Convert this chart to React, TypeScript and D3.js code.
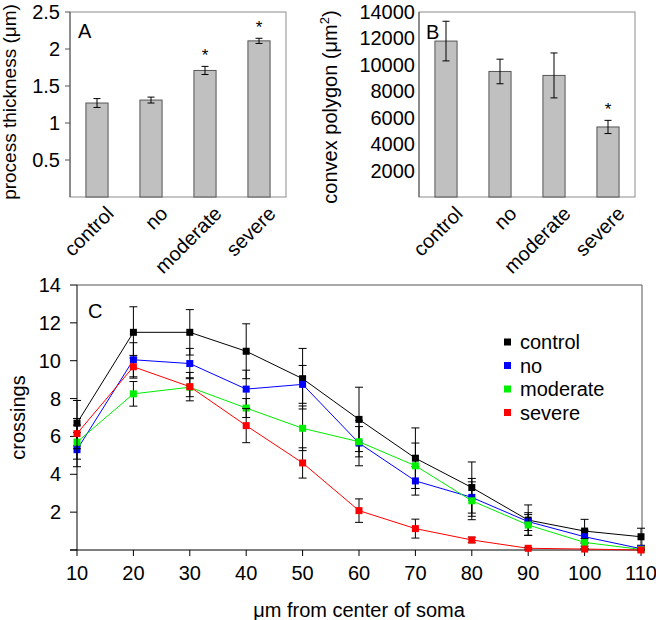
import React from 'react';
import * as d3 from 'd3';

// ---------- Data ----------
const barCategories = ['control', 'no', 'moderate', 'severe'];

const thicknessValues = [1.27, 1.31, 1.71, 2.11];
const thicknessErrors = [0.06, 0.04, 0.055, 0.035];
const thicknessSignificant = [false, false, true, true];
const thicknessTicks = [0.5, 1, 1.5, 2, 2.5];

const polygonValues = [11800, 9500, 9200, 5300];
const polygonErrors = [1500, 930, 1700, 500];
const polygonSignificant = [false, false, false, true];
const polygonTicks = [2000, 4000, 6000, 8000, 10000, 12000, 14000];

const distances = [10, 20, 30, 40, 50, 60, 70, 80, 90, 100, 110];
const crossingTicks = [2, 4, 6, 8, 10, 12, 14];

const seriesNames = ['control', 'no', 'moderate', 'severe'];
const seriesColors = ['#000000', '#0000ff', '#00ee00', '#ff0000'];
const controlMean = [6.7, 11.5, 11.5, 10.5, 9.05, 6.9, 4.85, 3.3, 1.58, 1.0, 0.7];
const controlErr = [1.2, 1.35, 1.2, 1.45, 1.6, 1.7, 1.6, 1.35, 0.8, 0.62, 0.45];
const noMean = [5.3, 10.05, 9.85, 8.5, 8.75, 5.65, 3.65, 2.78, 1.5, 0.7, 0.07];
const noErr = [0.9, 0.9, 0.8, 1.0, 1.0, 1.2, 0.75, 1.0, 0.47, 0.35, 0.1];
const moderateMean = [5.7, 8.25, 8.6, 7.5, 6.43, 5.72, 4.45, 2.6, 1.32, 0.4, 0.03];
const moderateErr = [0.9, 0.65, 0.5, 0.5, 1.18, 0.8, 1.2, 1.0, 0.55, 0.2, 0.05];
const severeMean = [6.15, 9.68, 8.63, 6.57, 4.6, 2.08, 1.13, 0.53, 0.09, 0.05, 0.0];
const severeErr = [0.8, 0.6, 0.75, 0.9, 0.8, 0.62, 0.5, 0.15, 0.05, 0.03, 0.02];

const seriesMeans = [controlMean, noMean, moderateMean, severeMean];
const seriesErrs = [controlErr, noErr, moderateErr, severeErr];

const FONT = 'Liberation Sans, Arial, Helvetica, sans-serif';

type BarPanelProps = {
  x0: number; x1: number; y0: number; y1: number;
  max: number; values: number[]; errors: number[]; sig: boolean[];
  ticks: number[]; tickLabelX: number; tickMarks: boolean;
  letter: string; letterX: number; letterY: number;
};

function BarPanel(p: BarPanelProps) {
  const x = d3.scaleBand<string>().domain(barCategories).range([p.x0, p.x1]).paddingInner(0.59).paddingOuter(0.295);
  const y = d3.scaleLinear().domain([0, p.max]).range([p.y1, p.y0]);
  const bw = x.bandwidth();
  return (
    <g>
      <rect x={p.x0} y={p.y0} width={p.x1 - p.x0} height={p.y1 - p.y0} fill="#fff" stroke="#8c8c8c" strokeWidth={1} />
      <line x1={p.x0} x2={p.x0} y1={p.y0} y2={p.y1} stroke="#555" strokeWidth={1} />
      {p.ticks.map((t) => (
        <g key={t}>
          {p.tickMarks && <line x1={p.x0 - 5} x2={p.x0} y1={y(t)} y2={y(t)} stroke="#555" />}
          <text x={p.tickLabelX} y={y(t)} dy="0.35em" textAnchor="end" fontSize={20} fontFamily={FONT}>{t}</text>
        </g>
      ))}
      {barCategories.map((c, i) => {
        const cx = (x(c) as number) + bw / 2;
        const top = y(p.values[i]);
        const eTop = y(p.values[i] + p.errors[i]);
        const eBot = y(p.values[i] - p.errors[i]);
        return (
          <g key={c}>
            <rect x={x(c)} y={top} width={bw} height={p.y1 - top} fill="#c0c0c0" stroke="#555" strokeWidth={1} />
            <line x1={cx} x2={cx} y1={eTop} y2={eBot} stroke="#000" />
            <line x1={cx - 3.5} x2={cx + 3.5} y1={eTop} y2={eTop} stroke="#000" />
            <line x1={cx - 3.5} x2={cx + 3.5} y1={eBot} y2={eBot} stroke="#000" />
            {p.sig[i] && (
              <text x={cx} y={eTop - 5} textAnchor="middle" fontSize={17} fontFamily={FONT}>*</text>
            )}
            <g transform={`translate(${cx + 13},${p.y1 + 13})`}>
              <g transform="rotate(-45)">
                <text x={0} y={7} textAnchor="end" fontSize={20} fontFamily={FONT}>{c}</text>
              </g>
            </g>
          </g>
        );
      })}
      <text x={p.letterX} y={p.letterY} fontSize={20} fontFamily={FONT}>{p.letter}</text>
    </g>
  );
}

function LinePanel() {
  const x0 = 77, x1 = 641, y0 = 285, y1 = 550;
  const x = d3.scaleLinear().domain([10, 110]).range([x0, x1]);
  const y = d3.scaleLinear().domain([0, 14]).range([y1, y0]);
  const line = d3.line<number>().x((_, i) => x(distances[i])).y((v) => y(v));
  return (
    <g>
      <line x1={x0} x2={x1 + 1} y1={y0} y2={y0} stroke="#555" />
      <line x1={x1 + 1} x2={x1 + 1} y1={y0} y2={y1} stroke="#555" />
      <line x1={x0} x2={x0} y1={y0} y2={y1} stroke="#000" />
      <line x1={x0 - 7} x2={x1 + 1} y1={y1} y2={y1} stroke="#000" />
      {[0, ...crossingTicks].map((t) => (
        <line key={'m' + t} x1={x0 - 7} x2={x0} y1={y(t)} y2={y(t)} stroke="#000" />
      ))}
      {crossingTicks.map((t) => (
        <text key={t} x={61} y={y(t)} dy="0.35em" textAnchor="end" fontSize={20} fontFamily={FONT}>{t}</text>
      ))}
      {distances.map((d) => (
        <g key={d}>
          <line x1={x(d)} x2={x(d)} y1={y1} y2={y1 + 6} stroke="#000" />
          <text x={x(d)} y={y1 + 30} textAnchor="middle" fontSize={20} fontFamily={FONT}>{d}</text>
        </g>
      ))}
      {seriesNames.map((name, s) => {
        const m = seriesMeans[s];
        const e = seriesErrs[s];
        return (
          <g key={name}>
            <path d={line(m) || ''} fill="none" stroke={seriesColors[s]} strokeWidth={1} />
            {m.map((v, i) => {
              const cx = x(distances[i]);
              const t = y(v + e[i]);
              const b = y(Math.max(0, v - e[i]));
              return (
                <g key={i}>
                  <line x1={cx} x2={cx} y1={t} y2={b} stroke="#000" />
                  <line x1={cx - 4} x2={cx + 4} y1={t} y2={t} stroke="#000" />
                  <line x1={cx - 4} x2={cx + 4} y1={b} y2={b} stroke="#000" />
                </g>
              );
            })}
            {m.map((v, i) => (
              <rect key={'p' + i} x={x(distances[i]) - 3.5} y={y(v) - 3.5} width={7} height={7} fill={seriesColors[s]} />
            ))}
          </g>
        );
      })}
      {seriesNames.map((name, s) => (
        <g key={'lg' + name}>
          <rect x={504} y={342 + s * 23.5 - 3.5} width={7} height={7} fill={seriesColors[s]} />
          <text x={520} y={342 + s * 23.5} dy="0.35em" fontSize={20} fontFamily={FONT}>{name}</text>
        </g>
      ))}
      <text x={88} y={318} fontSize={20} fontFamily={FONT}>C</text>
      <text transform={`translate(25,${(y0 + y1) / 2}) rotate(-90)`} textAnchor="middle" fontSize={20} fontFamily={FONT}>crossings</text>
      <text x={(x0 + x1) / 2} y={617} textAnchor="middle" fontSize={20} fontFamily={FONT}>μm from center of soma</text>
    </g>
  );
}

export default function App() {
  return (
    <svg width={656} height={620} style={{ position: 'absolute', left: 0, top: 0, background: '#fff' }}>
      <rect x={0} y={0} width={656} height={620} fill="#fff" />
      <BarPanel x0={70} x1={286} y0={12} y1={197} max={2.5} values={thicknessValues} errors={thicknessErrors}
        sig={thicknessSignificant} ticks={thicknessTicks} tickLabelX={60} tickMarks={true}
        letter="A" letterX={78} letterY={38} />
      <BarPanel x0={419} x1={635} y0={12} y1={197} max={14000} values={polygonValues} errors={polygonErrors}
        sig={polygonSignificant} ticks={polygonTicks} tickLabelX={415} tickMarks={false}
        letter="B" letterX={426} letterY={39} />
      <text transform="translate(16,102) rotate(-90)" textAnchor="middle" fontSize={19} fontFamily={FONT}>process thickness (μm)</text>
      <text transform="translate(337,107) rotate(-90)" textAnchor="middle" fontSize={20} fontFamily={FONT}>
        convex polygon (μm<tspan fontSize={13} dy={-8}>2</tspan><tspan dy={8}>)</tspan>
      </text>
      <LinePanel />
    </svg>
  );
}
